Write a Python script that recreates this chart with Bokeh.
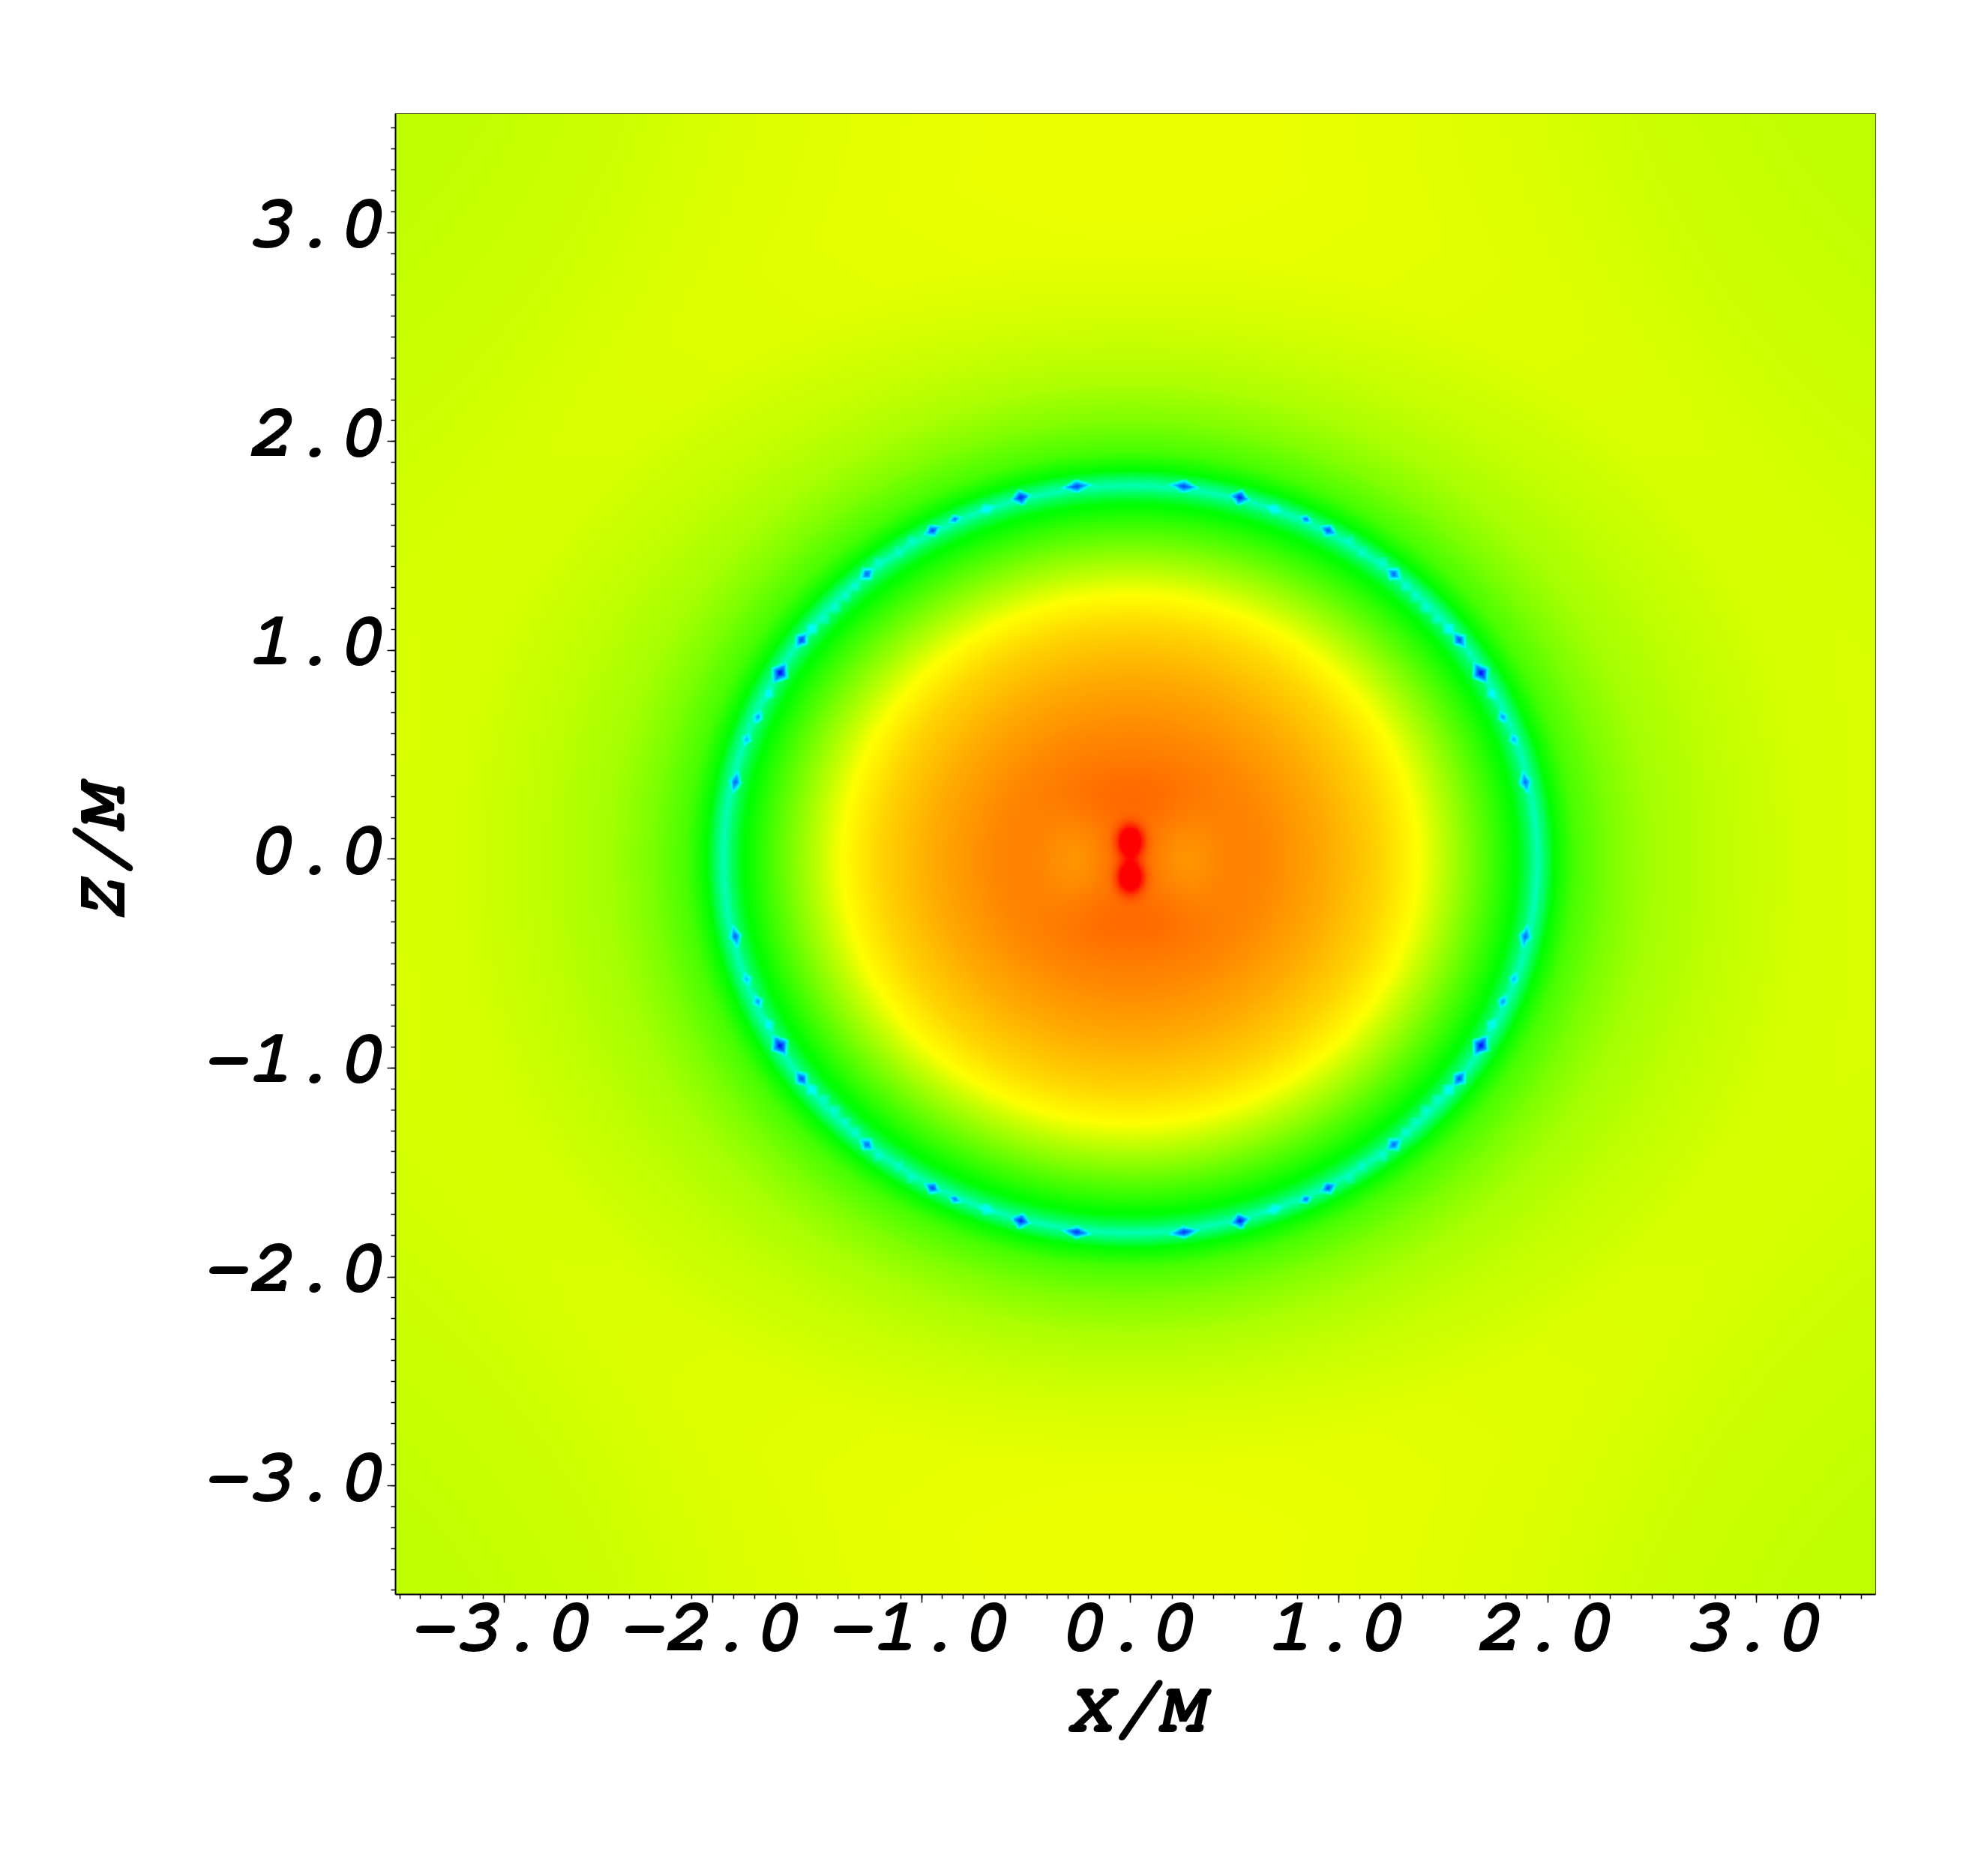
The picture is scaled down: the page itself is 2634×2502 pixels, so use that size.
import numpy as np
from bokeh.plotting import figure
from bokeh.models import FixedTicker, LinearAxis, Range1d, NumeralTickFormatter, CustomLabelingPolicy
from bokeh.embed import file_html
from bokeh.resources import INLINE

# Axis labels / ticks
major_ticks = [-3.0, -2.0, -1.0, 0.0, 1.0, 2.0, 3.0]
tick_format = "0.0"
minor_ticks = [round(-3.5 + 0.1 * i, 1) for i in range(71)]
x_title = "X/M"
z_title = "Z/M"
data_min, data_max = -3.52, 3.57

# Colour (hue in degrees: 0 red ... 240 blue) read along the X axis of the picture
profile_s = [0.0, 0.3, 0.66, 0.94, 1.2, 1.38, 1.48, 1.62, 1.76, 1.86, 1.91, 1.95, 1.99, 2.03, 2.13, 2.3, 2.5, 2.8, 3.2, 3.6, 5.5]
profile_hue = [26, 27, 32, 40, 50, 60, 73, 90, 108, 122, 142, 163, 142, 120, 103, 90, 80, 73, 67.5, 66.5, 66]
z_squash = 0.918  # the rings are flattened along Z

# Extra hue along the diagonals, towards the corners
diag_s = [2.5, 3.5, 5.0]
diag_hue = [0, 2, 9]
# Extra hue on the X axis, taken off on the Z axis
axis_s = [2.1, 2.8, 5.0]
axis_hue = [0, 2.5, 2.5]

# Features near the centre: x, z, width x, width z, hue change
blob_x = [0.0, 0.0, 0.27, -0.27, 0.14, -0.14, 0.14, -0.14]
blob_z = [0.085, -0.085, 0.0, 0.0, 0.34, 0.34, -0.34, -0.34]
blob_wx = [0.04, 0.04, 0.11, 0.11, 0.16, 0.16, 0.16, 0.16]
blob_wz = [0.05, 0.05, 0.15, 0.15, 0.1, 0.1, 0.1, 0.1]
blob_hue = [-56, -56, 8, 8, -2, -2, -2, -2]

# Spots on the ring, one quadrant (mirrored into the other three): x, z, peak hue
spot_x = [0.257, 0.525, 0.690, 0.841, 0.949, 1.047, 1.110, 1.206, 1.263, 1.322, 1.369, 1.419, 1.473, 1.527, 1.577, 1.680, 1.735, 1.786, 1.840, 1.894]
spot_z = [1.787, 1.733, 1.677, 1.629, 1.575, 1.521, 1.471, 1.417, 1.367, 1.310, 1.263, 1.209, 1.155, 1.105, 1.051, 0.893, 0.793, 0.682, 0.574, 0.370]
spot_hue = [228, 235, 185, 215, 225, 170, 170, 172, 218, 172, 170, 172, 170, 185, 225, 240, 185, 205, 200, 218]
spot_len = [0.09, 0.06, 0.08, 0.045, 0.055, 0.06, 0.06, 0.06, 0.055, 0.06, 0.06, 0.06, 0.06, 0.06, 0.06, 0.07, 0.06, 0.05, 0.05, 0.075]
spot_wid = [0.036, 0.046, 0.036, 0.028, 0.038, 0.042, 0.042, 0.042, 0.042, 0.042, 0.042, 0.042, 0.042, 0.042, 0.042, 0.052, 0.036, 0.032, 0.03, 0.036]


def build_field(n=1100):
    ax = np.linspace(data_min, data_max, n)
    X, Z = np.meshgrid(ax, ax)
    S = np.sqrt(X ** 2 + (Z / z_squash) ** 2)
    H = np.interp(S, profile_s, profile_hue)
    theta = np.arctan2(Z, X)
    H = H + np.interp(S, diag_s, diag_hue) * np.sin(2 * theta) ** 2
    H = H + np.interp(S, axis_s, axis_hue) * np.cos(2 * theta)
    for bx, bz, wx, wz, dh in zip(blob_x, blob_z, blob_wx, blob_wz, blob_hue):
        H = H + dh * np.exp(-((X - bx) / wx) ** 2 / 2 - ((Z - bz) / wz) ** 2 / 2)
    for sx, sz, peak, ln, wd in zip(spot_x, spot_z, spot_hue, spot_len, spot_wid):
        for mx in (1, -1):
            for mz in (1, -1):
                cx, cz = sx * mx, sz * mz
                nx, nz = cx, cz / z_squash ** 2
                norm = np.hypot(nx, nz)
                nx, nz = nx / norm, nz / norm
                dn = (X - cx) * nx + (Z - cz) * nz
                dt = -(X - cx) * nz + (Z - cz) * nx
                d = np.abs(dt) / ln + np.abs(dn) / wd
                spot = 140 + (peak - 140) * np.clip(1 - d, 0, 1) ** 0.6
                H = np.where(d < 1, np.maximum(H, spot), H)
    return np.clip(H, 0, 240)


def hue_to_rgba(H):
    h = H / 60.0
    c = 1 - np.abs(h % 2 - 1)
    r = np.select([h < 1, h < 2, h < 4, h <= 4], [1, c, 0, c])
    g = np.select([h < 1, h < 2, h < 3, h <= 4], [c, 1, 1, c])
    b = np.select([h < 2, h < 3, h <= 4], [0, c, 1])
    img = np.zeros(H.shape, dtype=np.uint32)
    view = img.view(dtype=np.uint8).reshape(H.shape + (4,))
    view[..., 0] = (r * 255).astype(np.uint8)
    view[..., 1] = (g * 255).astype(np.uint8)
    view[..., 2] = (b * 255).astype(np.uint8)
    view[..., 3] = 255
    return img


# The SVG backend cannot parse "bold italic", so the italic face of the family
# is mapped to its bold oblique cut in the page's style sheet (see the end).
FONT = "FreeMono"
STYLE = "italic"
p = figure(
    frame_width=1974, frame_height=1975,
    x_range=Range1d(data_min, data_max), y_range=Range1d(data_min, data_max),
    output_backend="svg", toolbar_location=None, x_axis_location=None, y_axis_location=None,
    min_border_left=527, min_border_top=151, min_border_right=110, min_border_bottom=350,
    background_fill_color="white", border_fill_color="white",
)
p.grid.visible = False
p.outline_line_color = "#222222"
p.outline_line_width = 1

p.image_rgba(image=[hue_to_rgba(build_field())], x=data_min, y=data_min,
             dw=data_max - data_min, dh=data_max - data_min)

ticker = FixedTicker(ticks=major_ticks, minor_ticks=minor_ticks)
label_ticker = FixedTicker(ticks=major_ticks, minor_ticks=[])
formatter = NumeralTickFormatter(format=tick_format)


def tick_axis(**kw):
    a = LinearAxis(ticker=ticker, major_label_policy=CustomLabelingPolicy(code="return [];"), **kw)
    a.major_label_text_font_size = "1px"
    a.major_label_standoff = 0
    a.major_tick_in = 0
    a.major_tick_out = 11
    a.minor_tick_in = 0
    a.minor_tick_out = 6
    a.axis_line_width = 2
    a.axis_line_color = "black"
    a.major_tick_line_color = "black"
    a.minor_tick_line_color = "black"
    a.major_tick_line_width = 1.5
    a.minor_tick_line_width = 1.5
    return a


def label_axis(title, standoff, label_standoff, **kw):
    a = LinearAxis(ticker=label_ticker, formatter=formatter, axis_label=title, **kw)
    a.axis_line_color = None
    a.major_tick_line_color = None
    a.minor_tick_line_color = None
    a.major_tick_out = 0
    a.major_tick_in = 0
    a.major_label_text_font = FONT
    a.major_label_text_font_size = "100px"
    a.major_label_text_font_style = STYLE
    a.major_label_text_color = "black"
    a.major_label_standoff = label_standoff
    a.axis_label_text_font = FONT
    a.axis_label_text_font_size = "100px"
    a.axis_label_text_font_style = STYLE
    a.axis_label_text_color = "black"
    a.axis_label_standoff = standoff
    return a


# Ticks sit on the frame; the labels come from second axes on ranges nudged by
# a few pixels, as the reference's labels are not quite centred on their ticks.
p.extra_x_ranges = {"labels": Range1d(data_min + 0.025, data_max + 0.025)}
p.extra_y_ranges = {"labels": Range1d(data_min - 0.036, data_max - 0.036)}

p.add_layout(tick_axis(), "below")
p.add_layout(label_axis(x_title, 26, 1, x_range_name="labels"), "below")
p.add_layout(tick_axis(), "left")
p.add_layout(label_axis(z_title, 80, 4, y_range_name="labels"), "left")

face = ("<style>@font-face{font-family:'FreeMono';font-style:italic;font-weight:normal;"
        "src:local('FreeMono Bold Oblique'),local('FreeMonoBoldOblique');}</style>")
html = file_html(p, INLINE).replace("<head>", "<head>" + face, 1)
open("out.html", "w").write(html)
